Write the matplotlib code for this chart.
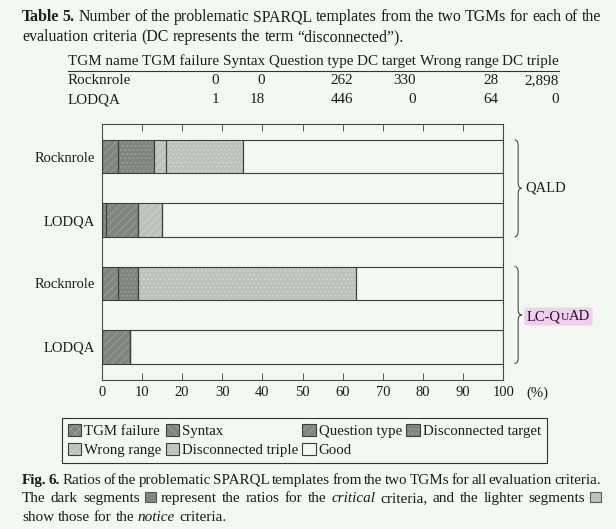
import matplotlib
matplotlib.use('Agg')
import matplotlib.pyplot as plt
from matplotlib.patches import Patch, Rectangle, PathPatch, FancyBboxPatch
from matplotlib.path import Path
from matplotlib.transforms import Affine2D, IdentityTransform, Bbox
import numpy as np

# ---------------- data ----------------
row_labels = ['Rocknrole', 'LODQA', 'Rocknrole', 'LODQA']
datasets = ['QALD', 'LC-Q', 'U', 'AD']          # dataset label (LC-QuAD, small-cap U)
criteria = ['TGM failure', 'Syntax', 'Question type', 'Disconnected target',
            'Wrong range', 'Disconnected triple', 'Good']
tgm_failure = [0, 0, 0, 0]
syntax = [0, 1.0, 0, 0]
question_type = [4.1, 8.0, 4.1, 7.0]
dc_target = [8.9, 0, 4.9, 0]
wrong_range = [3.1, 6.1, 0, 0]
dc_triple = [19.0, 0, 54.2, 0]
good = [64.9, 84.9, 36.8, 93.0]
x_ticks = [0, 10, 20, 30, 40, 50, 60, 70, 80, 90, 100]

table_columns = ['TGM name', 'TGM failure', 'Syntax', 'Question type',
                 'DC target', 'Wrong range', 'DC triple']
table_rocknrole = ['Rocknrole', '0', '0', '262', '330', '28', '2,898']
table_lodqa = ['LODQA', '1', '18', '446', '0', '64', '0']

# ---------------- style ----------------
W, H = 616, 529
BG = '#f3f8f2'
TXT = '#1c1c1c'
EDGE = '#3c3f3c'
DARK, DARK_H = '#7f857f', '#a3a8a3'
LIGHT, LIGHT_H = '#bdc2bd', '#d8dcd8'
styles = [
    (DARK, DARK_H, 'xxxx'),
    (DARK, DARK_H, '\\\\\\\\'),
    (DARK, DARK_H, '////'),
    (DARK, DARK_H, '....'),
    (LIGHT, LIGHT_H, '////'),
    (LIGHT, LIGHT_H, '....'),
    (BG, BG, ''),
]

plt.rcParams['font.family'] = ['Liberation Serif', 'DejaVu Serif']
plt.rcParams['hatch.linewidth'] = 0.5
FS = 10.5
FSC = 11.4

fig = plt.figure(figsize=(W / 100, H / 100), dpi=100, facecolor=BG)
T = Affine2D().scale(1.0 / W, -1.0 / H).translate(0, 1) + fig.transFigure
renderer = fig.canvas.get_renderer()


def wof(t):
    return t.get_window_extent(renderer).width


def text_line(segments, x0, y, x1=None, size=FSC):
    words = []
    for s, kw in segments:
        if 'box' in kw:
            words.append(('__box__', kw))
        else:
            for w in s.split():
                words.append((w, kw))
    sz = size
    while True:
        objs, widths = [], []
        for w, kw in words:
            if w == '__box__':
                objs.append(None)
                widths.append(11.0)
            else:
                t = fig.text(0, y, w, transform=T, fontsize=sz, color=TXT,
                             va='baseline', ha='left', **kw)
                objs.append(t)
                widths.append(wof(t))
        space = 0.25 * sz * 100 / 72
        if x1 is None:
            gap = space
        else:
            gap = (x1 - x0 - sum(widths)) / (len(words) - 1)
        if x1 is not None and gap < 0.55 * space and sz > 7:
            for o in objs:
                if o is not None:
                    o.remove()
            sz -= 0.1
            continue
        break
    x = x0
    for (w, kw), o, wd in zip(words, objs, widths):
        if o is None:
            fig.add_artist(Rectangle((x, y - 10), wd, 10, transform=T,
                                     facecolor=kw['box'], edgecolor='#555a55', lw=0.8))
        else:
            o.set_x(x)
        x += wd + gap


# ---------------- table caption ----------------
B = {'fontweight': 'bold'}
N = {}
I = {'fontstyle': 'italic'}
text_line([('Table 5.', B), ('Number of the problematic SPARQL templates from the two TGMs for each of the', N)],
          22, 21, 601)
text_line([('evaluation criteria (DC represents the term \u201cdisconnected\u201d).', N)], 22, 41)

# ---------------- table ----------------
tmp = [fig.text(0, 65, c, transform=T, fontsize=10.0) for c in table_columns]
w10 = sum(wof(t) for t in tmp)
for t in tmp:
    t.remove()
target = 491 - 6 * 3.5
tfs = 10.0 * target / w10
hdr = [fig.text(0, 65, c, transform=T, fontsize=tfs, color=TXT, va='baseline', ha='left')
       for c in table_columns]
hw = [wof(t) for t in hdr]
gap = (559 - 68 - sum(hw)) / (len(hdr) - 1)
x = 68
rights = []
for t, w in zip(hdr, hw):
    t.set_x(x)
    x += w
    rights.append(x)
    x += gap
fig.add_artist(plt.Line2D([68, 559], [70.5, 70.5], transform=T, color='#333333', lw=0.8))
for yb, row in [(84, table_rocknrole), (103, table_lodqa)]:
    fig.text(68, yb, row[0], transform=T, fontsize=tfs, color=TXT, va='baseline', ha='left')
    for val, r in zip(row[1:], rights[1:]):
        fig.text(r, yb, val, transform=T, fontsize=tfs, color=TXT, va='baseline', ha='right')

# ---------------- chart ----------------
ax = fig.add_axes([101.7 / W, 1 - 380 / H, (503.3 - 101.7) / W, (380 - 124) / H])
ax.set_facecolor(BG)
series = [tgm_failure, syntax, question_type, dc_target, wrong_range, dc_triple, good]
ypos = np.arange(len(row_labels))
left = np.zeros(len(row_labels))
BH = 0.53
for vals, (fc, hc, hatch) in zip(series, styles):
    ax.barh(ypos, vals, left=left, height=BH, color=fc, edgecolor=hc, hatch=hatch,
            linewidth=0, zorder=2)
    ax.barh(ypos, vals, left=left, height=BH, fill=False, edgecolor=EDGE,
            linewidth=0.8, zorder=3)
    left = left + np.array(vals)

ax.set_xlim(0, 100)
ax.set_ylim(3.525, -0.515)
ax.set_xticks(x_ticks)
ax.set_xticklabels([str(v) for v in x_ticks])
ax.set_yticks(ypos)
ax.set_yticklabels(row_labels)
ax.tick_params(axis='x', direction='in', length=5, width=0.7, color='#555555',
               top=True, labelsize=FS, labelcolor=TXT, pad=4)
ax.tick_params(axis='y', length=0, labelsize=FS, labelcolor=TXT, pad=5)
for sp in ax.spines.values():
    sp.set_color('#4a4a4a')
    sp.set_linewidth(0.8)
fig.text(537, 397, '(%)', transform=T, fontsize=FS, color=TXT, va='baseline', ha='center')


# braces
def brace(y_top, y_bot):
    xl, xm, xt = 102.8, 103.7, 104.6
    r = 0.09
    yc = (y_top + y_bot) / 2
    verts = [(xl, y_top), (xm, y_top), (xm, y_top + r), (xm, yc - r),
             (xm, yc), (xt, yc), (xm, yc), (xm, yc + r), (xm, y_bot - r),
             (xm, y_bot), (xl, y_bot)]
    codes = [Path.MOVETO, Path.CURVE3, Path.CURVE3, Path.LINETO,
             Path.CURVE3, Path.CURVE3, Path.CURVE3, Path.CURVE3, Path.LINETO,
             Path.CURVE3, Path.CURVE3]
    ax.add_patch(PathPatch(Path(verts, codes), fill=False, edgecolor='#4a4a4a',
                           lw=0.8, clip_on=False, zorder=4))


brace(0 - BH / 2, 1 + BH / 2)
brace(2 - BH / 2, 3 + BH / 2)

px1 = ax.transData.transform((105.5, 0.5))
fig.text(px1[0], px1[1], datasets[0], transform=IdentityTransform(), fontsize=FS,
         color=TXT, va='center', ha='left')
px2 = ax.transData.transform((105.8, 2.5))
t1 = fig.text(px2[0], px2[1] - 5, datasets[1], transform=IdentityTransform(), fontsize=FS,
              color='#2a0a2a', va='baseline', ha='left', zorder=5)
x2 = t1.get_window_extent(renderer).x1
t2 = fig.text(x2, px2[1] - 5, datasets[2], transform=IdentityTransform(), fontsize=FS * 0.78,
              color='#2a0a2a', va='baseline', ha='left', zorder=5)
x3 = t2.get_window_extent(renderer).x1
t3 = fig.text(x3, px2[1] - 5, datasets[3], transform=IdentityTransform(), fontsize=FS,
              color='#2a0a2a', va='baseline', ha='left', zorder=5)
bb = Bbox.union([t.get_window_extent(renderer) for t in (t1, t2, t3)])
fig.add_artist(FancyBboxPatch((bb.x0 - 2.5, bb.y0 - 2.5), bb.width + 5, bb.height + 5,
                              boxstyle='round,pad=0,rounding_size=2.5',
                              transform=IdentityTransform(), facecolor='#efd0ef',
                              edgecolor='none', zorder=4))

# ---------------- legend ----------------
handles = []
for fc, hc, hatch in styles:
    handles.append((Patch(facecolor=fc, edgecolor=hc, hatch=hatch, linewidth=0),
                    Patch(fill=False, edgecolor=EDGE, linewidth=0.8)))
order = [0, 4, 1, 5, 2, 6, 3]
leg = fig.legend([handles[i] for i in order], [criteria[i] for i in order],
                 ncol=4, loc='upper left', bbox_to_anchor=(62 / W, 1 - 418 / H),
                 bbox_transform=fig.transFigure, frameon=True, fancybox=False,
                 edgecolor='#333333', facecolor=BG, framealpha=1, fontsize=10.7,
                 handlelength=0.9, handleheight=0.85, handletextpad=0.2,
                 columnspacing=0.28, borderpad=0.4, labelspacing=0.35,
                 borderaxespad=0)
leg.get_frame().set_linewidth(0.8)
for t in leg.get_texts():
    t.set_color(TXT)

# ---------------- figure caption ----------------
text_line([('Fig. 6.', B), ('Ratios of the problematic SPARQL templates from the two TGMs for all evaluation criteria.', N)],
          22, 484, 601)
text_line([('The dark segments', N), ('', {'box': DARK}), ('represent the ratios for the', N),
           ('critical', I), ('criteria, and the lighter segments', N), ('', {'box': LIGHT})],
          22, 502, 601, size=11.0)
text_line([('show those for the', N), ('notice', I), ('criteria.', N)], 22, 521, size=11.0)

fig.savefig('out.png', dpi=100, facecolor=BG)
